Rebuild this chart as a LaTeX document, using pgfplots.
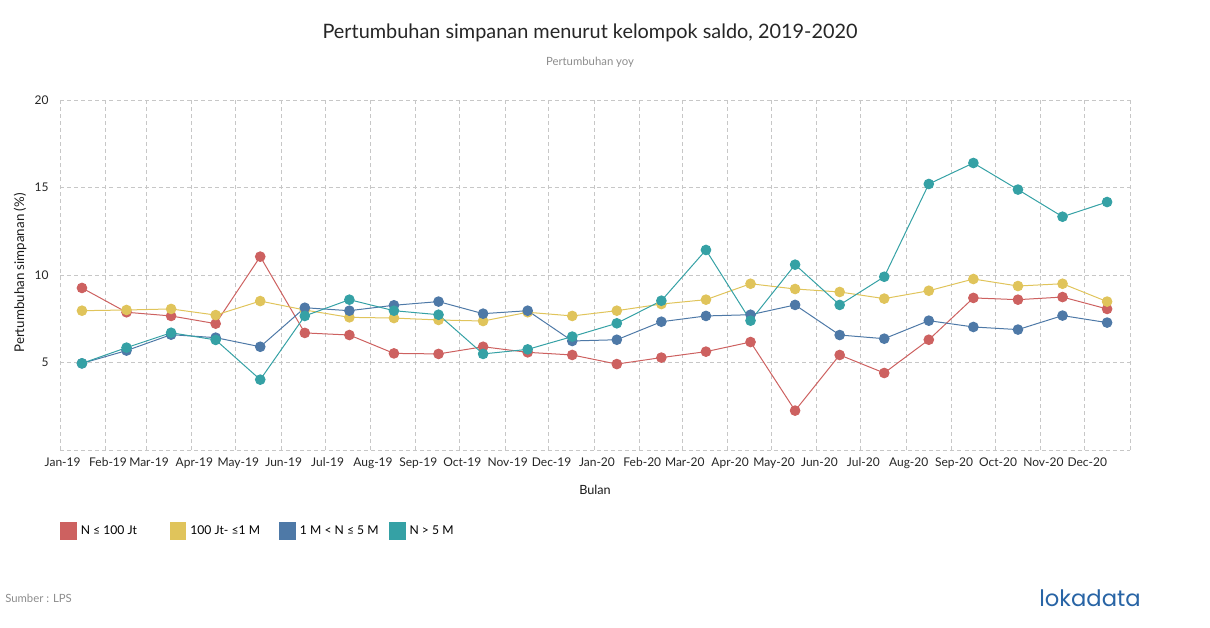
\documentclass[border=0pt]{standalone}
\usepackage{fontspec}
\setmainfont{Lato}
\newfontfamily\logofont{Poppins}
\usepackage{pgfplots}
\pgfplotsset{compat=1.18}
\usepackage{pgfplotstable}
\definecolor{cred}{RGB}{205,97,96}
\definecolor{cyel}{RGB}{224,196,91}
\definecolor{cblu}{RGB}{78,121,167}
\definecolor{cteal}{RGB}{53,161,165}
\definecolor{logoblue}{RGB}{40,100,165}

% x = days since 1 Jan 2019 (points evenly spaced, mid-month)
\pgfplotstableread{
x y
15 9.26
45.45 7.87
75.9 7.66
106.35 7.22
136.8 11.05
167.25 6.69
197.7 6.57
228.15 5.52
258.6 5.49
289.05 5.90
319.5 5.58
349.95 5.43
380.4 4.91
410.85 5.28
441.3 5.62
471.75 6.17
502.2 2.25
532.65 5.43
563.1 4.40
593.55 6.30
624 8.69
654.45 8.59
684.9 8.74
715.35 8.06
}\dred
\pgfplotstableread{
x y
15 7.96
45.45 8.00
75.9 8.06
106.35 7.71
136.8 8.51
167.25 8.00
197.7 7.58
228.15 7.54
258.6 7.43
289.05 7.37
319.5 7.87
349.95 7.66
380.4 7.96
410.85 8.34
441.3 8.59
471.75 9.50
502.2 9.20
532.65 9.03
563.1 8.65
593.55 9.10
624 9.77
654.45 9.37
684.9 9.50
715.35 8.48
}\dyel
\pgfplotstableread{
x y
15 4.95
45.45 5.68
75.9 6.59
106.35 6.42
136.8 5.90
167.25 8.13
197.7 7.96
228.15 8.27
258.6 8.48
289.05 7.79
319.5 7.96
349.95 6.23
380.4 6.30
410.85 7.33
441.3 7.66
471.75 7.73
502.2 8.29
532.65 6.57
563.1 6.36
593.55 7.39
624 7.03
654.45 6.88
684.9 7.68
715.35 7.28
}\dblu
\pgfplotstableread{
x y
15 4.95
45.45 5.85
75.9 6.70
106.35 6.29
136.8 4.02
167.25 7.66
197.7 8.59
228.15 7.96
258.6 7.73
289.05 5.49
319.5 5.75
349.95 6.48
380.4 7.24
410.85 8.53
441.3 11.43
471.75 7.39
502.2 10.59
532.65 8.29
563.1 9.90
593.55 15.20
624 16.40
654.45 14.88
684.9 13.33
715.35 14.17
}\dteal

\begin{document}
\begin{tikzpicture}[x=0.75pt,y=0.75pt]
\path[use as bounding box] (0,0) rectangle (1210,628);
\begin{axis}[
  at={(45pt,133.5pt)}, anchor=south west,
  scale only axis, width=802.5pt, height=262.5pt,
  xmin=0, xmax=731, ymin=0, ymax=20,
  axis line style={draw=none},
  major tick length=0pt,
  grid=major,
  grid style={color=black!22, line width=0.6pt, dash pattern=on 3pt off 2.3pt},
  xtick={0,31,59,90,120,151,181,212,243,273,304,334,365,396,425,456,486,517,547,578,609,639,670,700,731},
  xticklabels={Jan-19,Feb-19,Mar-19,Apr-19,May-19,Jun-19,Jul-19,Aug-19,Sep-19,Oct-19,Nov-19,Dec-19,Jan-20,Feb-20,Mar-20,Apr-20,May-20,Jun-20,Jul-20,Aug-20,Sep-20,Oct-20,Nov-20,Dec-20,},
  ytick={0,5,10,15,20},
  yticklabels={,5,10,15,20},
  tick label style={font=\fontsize{9}{10}\selectfont, color=black!85},
  xticklabel style={yshift=-2pt, xshift=2pt},
  yticklabel style={xshift=-5pt},
  /pgf/number format/assume math mode=true,
  every axis plot/.append style={line width=0.75pt, mark=*, mark size=3.6pt},
  legend image code/.code={\path[fill, draw=none] (0pt,-6.4pt) rectangle (12.4pt,6.4pt);},
  legend style={at={(axis description cs:0,-0.2314)}, anchor=west, draw=none, fill=none,
    inner sep=0pt, font=\fontsize{9.1}{10}\selectfont, legend columns=4,
    /tikz/every even column/.append style={column sep=0pt}},
]
\addplot[color=cred] table[x=x,y=y]{\dred};
\addlegendentry{\makebox[65.8pt][l]{\hspace{1pt}N ≤ 100 Jt}}
\addplot[color=cyel] table[x=x,y=y]{\dyel};
\addlegendentry{\makebox[65.8pt][l]{\hspace{1pt}100 Jt- ≤1 M}}
\addplot[color=cblu] table[x=x,y=y]{\dblu};
\addlegendentry{\makebox[65.8pt][l]{\hspace{1pt}1 M < N ≤ 5 M}}
\addplot[color=cteal] table[x=x,y=y]{\dteal};
\addlegendentry{\makebox[65.8pt][l]{\hspace{1pt}N > 5 M}}
\end{axis}
\node[font=\fontsize{14.9}{17}\selectfont, text=black!85] at (590,595) {Pertumbuhan simpanan menurut kelompok saldo, 2019-2020};
\node[font=\fontsize{8.5}{10}\selectfont, text=black!45] at (590,566) {Pertumbuhan yoy};
\node[font=\fontsize{10}{11}\selectfont, text=black!90, rotate=90] at (20,355) {Pertumbuhan simpanan (\%)};
\node[font=\fontsize{9.5}{11}\selectfont, text=black!90] at (595,138) {Bulan};
\node[font=\fontsize{8.5}{10}\selectfont, text=black!45, anchor=west, inner sep=0pt] at (5,30) {Sumber : LPS};
\node[font=\logofont\fontsize{17}{19}\selectfont, text=logoblue] at (1090,30) {lokadata};
\end{tikzpicture}
\end{document}
